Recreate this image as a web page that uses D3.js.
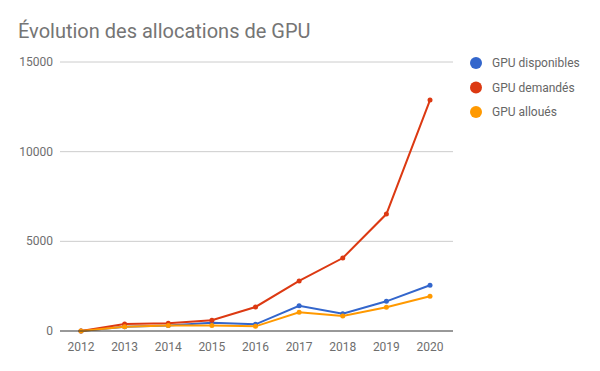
<!DOCTYPE html>
<html>
<head>
<meta charset="utf-8">
<script src="https://cdn.jsdelivr.net/npm/d3@7"></script>
<style>
  body { margin: 0; background: #fff; }
  svg { font-family: Roboto, Arial, sans-serif; }
</style>
</head>
<body>
<div id="chart"></div>
<script>
let width = 600, height = 371;

// data
const years = [2012, 2013, 2014, 2015, 2016, 2017, 2018, 2019, 2020];
const disponibles = [0, 240, 300, 460, 370, 1410, 965, 1655, 2550];
const demandes = [0, 390, 430, 600, 1340, 2790, 4070, 6520, 12880];
const alloues = [0, 240, 300, 300, 260, 1040, 840, 1320, 1935];
const seriesNames = ['GPU disponibles', 'GPU demandés', 'GPU alloués'];
const seriesColors = ['#3366cc', '#dc3912', '#ff9900'];
const yTicks = [0, 5000, 10000, 15000];

const series = [disponibles, demandes, alloues];

const svg = d3.select('#chart').append('svg')
  .attr('width', width)
  .attr('height', height);

const plotLeft = 60, plotRight = 453, plotTop = 62, plotBottom = 331;

const x = d3.scalePoint()
  .domain(years)
  .range([81, 430]);

const y = d3.scaleLinear()
  .domain([0, 15000])
  .range([plotBottom, plotTop]);

// title
svg.append('text')
  .attr('x', 18)
  .attr('y', 38)
  .attr('font-size', 20)
  .attr('fill', '#757575')
  .text('Évolution des allocations de GPU');

// grid
svg.append('g').selectAll('line')
  .data(yTicks.slice(1))
  .join('line')
    .attr('x1', plotLeft).attr('x2', plotRight)
    .attr('y1', d => y(d)).attr('y2', d => y(d))
    .attr('stroke', '#cccccc')
    .attr('stroke-width', 1);

// y labels
svg.append('g').selectAll('text')
  .data(yTicks)
  .join('text')
    .attr('x', 53)
    .attr('y', d => y(d) + 4)
    .attr('text-anchor', 'end')
    .attr('font-size', 12)
    .attr('fill', '#6e6e6e')
    .text(d => d);

// x labels
svg.append('g').selectAll('text')
  .data(years)
  .join('text')
    .attr('x', d => x(d))
    .attr('y', 351)
    .attr('text-anchor', 'middle')
    .attr('font-size', 12)
    .attr('fill', '#6e6e6e')
    .text(d => d);

// lines
const line = d3.line()
  .x((d, i) => x(years[i]))
  .y(d => y(d));

series.forEach((s, k) => {
  const g = svg.append('g');
  g.append('path')
    .datum(s)
    .attr('d', line)
    .attr('fill', 'none')
    .attr('stroke', seriesColors[k])
    .attr('stroke-width', 2);
  g.selectAll('circle')
    .data(s)
    .join('circle')
      .attr('cx', (d, i) => x(years[i]))
      .attr('cy', d => y(d))
      .attr('r', 2.5)
      .attr('fill', seriesColors[k]);
});

// baseline
svg.append('line')
  .attr('x1', plotLeft).attr('x2', plotRight)
  .attr('y1', y(0)).attr('y2', y(0))
  .attr('stroke', '#333')
  .attr('stroke-width', 1);

// legend
const legend = svg.append('g').selectAll('g')
  .data(seriesNames)
  .join('g')
    .attr('transform', (d, i) => `translate(476, ${63 + i * 24.5})`);

legend.append('circle')
  .attr('r', 6)
  .attr('fill', (d, i) => seriesColors[i]);

legend.append('text')
  .attr('x', 16)
  .attr('y', 4)
  .attr('font-size', 12)
  .attr('fill', '#666')
  .text(d => d);
</script>
</body>
</html>
